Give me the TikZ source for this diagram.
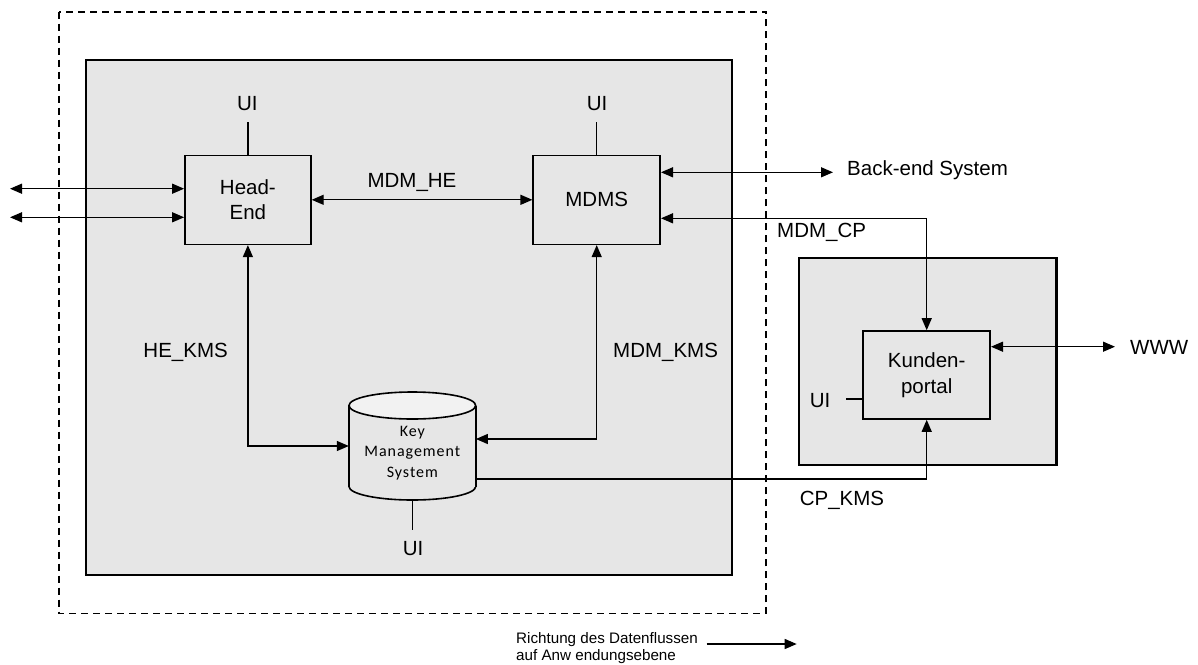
\documentclass[tikz,border=0pt]{standalone}
\usepackage{fontspec}
\setmainfont{Liberation Sans}
\newfontfamily\kmsfont[LetterSpace=6]{Carlito}
\usetikzlibrary{arrows.meta}
\definecolor{boxgray}{HTML}{E6E6E6}
\definecolor{toplight}{HTML}{F2F2F2}
\tikzset{
  tip/.tip={Triangle[length=12pt,width=10pt]},
  conn/.style={line width=1.3pt, draw=black},
  blk/.style={draw=black, line width=1.6pt, fill=boxgray, inner sep=0pt, align=center,
    font=\fontsize{20.5}{25}\selectfont},
  lbl/.style={inner sep=0pt, font=\fontsize{20.5}{24}\selectfont},
}
\begin{document}
\begin{tikzpicture}[x=1pt,y=-1pt]
\useasboundingbox (0,0) rectangle (1198,664);
% frames
\draw[line width=1.7pt, dash pattern=on 7pt off 5pt] (59,11.7) rectangle (766,613.5);
\draw[line width=2.2pt, fill=boxgray] (85.7,60) rectangle (731.7,575);
\draw[line width=2.2pt, fill=boxgray] (799,257.7) rectangle (1056.5,465);
% blocks
\node[blk, minimum width=126pt, minimum height=89pt] (he) at (247.9,199.8) {Head-\\End};
\node[blk, minimum width=127pt, minimum height=89pt] (mdms) at (596.7,199.8) {MDMS};
\node[blk, minimum width=127pt, minimum height=88pt, font=\fontsize{20.5}{26}\selectfont] (kp) at (926.7,375) {Kunden-\\portal};
% cylinder
\draw[line width=1.6pt, fill=boxgray] (412.35,486.5) ellipse [x radius=63.35pt, y radius=13.5pt];
\fill[boxgray] (349,405.5) rectangle (475.7,486.5);
\draw[line width=1.6pt] (349,405.5) -- (349,486.5) (475.7,405.5) -- (475.7,486.5);
\draw[line width=1.6pt, fill=toplight] (412.35,405.5) ellipse [x radius=63.35pt, y radius=13.5pt];
\node[inner sep=0pt, minimum width=126.7pt, minimum height=108pt] (kms) at (412.35,446) {};
\node[inner sep=0pt, align=center, font=\kmsfont\fontsize{16}{20.5}\selectfont] (kmst) at (412.35,453) {Key\\Management\\System};
% UI labels
\node[lbl] (uihe) at (247.3,104) {UI};
\node[lbl] (uimd) at (597,104) {UI};
\node[lbl] (uikms) at (413,549) {UI};
\node[lbl] (uikp) at (820,401) {UI};
\draw[conn] (he.north) -- ++(0,-32.5);
\draw[conn] (mdms.north) -- ++(0,-32.5);
\draw[conn] (kms.south) -- ++(0,29.5);
\coordinate (uikpend) at (846,399);
\draw[conn] (uikpend) -- (uikpend -| kp.west);
% left external arrows
\coordinate (l1) at (10,188.7);
\coordinate (l2) at (10,217.3);
\draw[conn, {tip}-{tip}] (l1) -- (l1 -| he.west);
\draw[conn, {tip}-{tip}] (l2) -- (l2 -| he.west);
% MDM_HE
\draw[conn, {tip}-{tip}] (he.east) -- (mdms.west);
\node[lbl] (lmdmhe) at (412,182) {MDM\_HE};
% Back-end
\coordinate (be) at (833,172.3);
\draw[conn, {tip}-{tip}] (be -| mdms.east) -- (be);
\node[lbl, anchor=west] (lbe) at (847,170) {Back-end System};
% MDM_CP
\coordinate (cp) at (926.7,218.3);
\draw[conn, {tip}-{tip}] (cp -| mdms.east) -- (cp) -- (kp.north);
\node[lbl, anchor=west] (lmdmcp) at (777,232) {MDM\_CP};
% WWW
\coordinate (www) at (1115,346.7);
\draw[conn, {tip}-{tip}] (www -| kp.east) -- (www);
\node[lbl, anchor=west] (lwww) at (1130,347) {WWW};
% HE_KMS
\draw[conn, {tip}-{tip}] (he.south) |- (kms.west);
\node[lbl, anchor=east] (lhekms) at (228,352) {HE\_KMS};
% MDM_KMS
\draw[conn, {tip}-{tip}] (mdms.south) |- ([yshift=7pt]kms.east);
\node[lbl, anchor=west] (lmdmkms) at (613,352) {MDM\_KMS};
% CP_KMS
\draw[conn, -{tip}] ([yshift=-33pt]kms.east) -| (kp.south);
\node[lbl] (lcpkms) at (842,500) {CP\_KMS};
% legend
\node[inner sep=0pt, anchor=west, align=left, font=\fontsize{15.2}{16.7}\selectfont] (leg) at (516,648.3) {Richtung des Datenflussen\\auf Anw endungsebene};
\coordinate (lega) at (706.7,644);
\coordinate (legb) at (796.7,644);
\draw[conn, -{tip}] (lega) -- (legb);
\end{tikzpicture}
\end{document}
